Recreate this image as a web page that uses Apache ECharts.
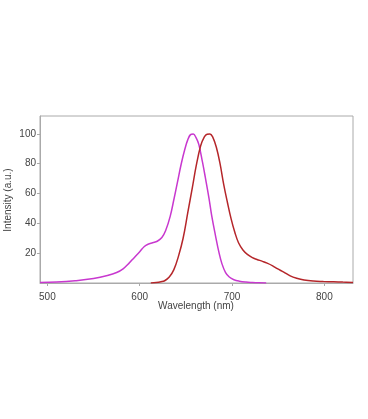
<!DOCTYPE html>
<html><head><meta charset="utf-8">
<script src="https://cdn.jsdelivr.net/npm/echarts@6/dist/echarts.min.js"></script>
<style>html,body{margin:0;padding:0;background:#fff}#c{width:368px;height:419px}</style>
</head><body><div id="c"></div>
<script>
const xTicks = [500, 600, 700, 800];
const yTicks = [20, 40, 60, 80, 100];
const xTitle = 'Wavelength (nm)';
const yTitle = 'Intensity (a.u.)';
const exWavelength = [492, 510, 530, 550, 565, 575, 582, 588, 594, 600, 605, 609, 614, 619, 624, 628, 633, 637, 641, 645, 649, 652, 655, 658, 661, 664, 668, 671, 675, 678, 682, 686, 689, 693, 697, 702, 708, 715, 722, 729, 737];
const exIntensity = [0.3, 0.6, 1.5, 3, 5, 7, 9.5, 13, 17, 21, 24.5, 26, 27, 28, 30.5, 35, 44.7, 56, 68, 80, 90, 96, 99.5, 100, 97.5, 93, 81, 71, 57, 45, 32, 20, 13, 7, 4, 2.2, 1.2, 0.6, 0.3, 0.1, 0];
const emWavelength = [612, 618, 623, 627, 632, 637, 642, 647, 652, 657, 661, 666, 670, 673, 676, 679, 683, 687, 691, 695, 699, 703, 707, 712, 717, 722, 727, 733, 738, 744, 749, 756, 763, 770, 778, 788, 799, 810, 820, 831];
const emIntensity = [0, 0.3, 0.8, 1.5, 4, 9, 18, 30, 47, 64, 78, 92, 98, 99.8, 100, 98, 91, 80, 66, 54, 43, 34, 27, 22, 19, 17, 15.8, 14.5, 13.3, 11.5, 9.6, 7.3, 4.8, 3.2, 2, 1.3, 1, 0.8, 0.6, 0.4];

const chart = echarts.init(document.getElementById('c'), null, {renderer: 'canvas'});
const font = 'Liberation Sans, Arial, sans-serif';
const axisText = {color: '#444', fontSize: 10, fontFamily: font};
chart.setOption({
  animation: false,
  backgroundColor: '#fff',
  grid: {left: 40, right: 15, top: 116, bottom: 136, containLabel: false, outerBoundsMode: 'none', show: true, borderColor: '#aaa', borderWidth: 1},
  graphic: [
    {type: 'text', x: 196, y: 306, style: {text: xTitle, fill: '#444', font: '10px ' + font, align: 'center', verticalAlign: 'middle'}},
    {type: 'text', x: 8, y: 200, rotation: Math.PI / 2, style: {text: yTitle, fill: '#444', font: '10px ' + font, align: 'center', verticalAlign: 'middle'}}
  ],
  xAxis: {
    type: 'value', min: 492, max: 831,
    axisLine: {show: true, lineStyle: {color: '#aaa'}},
    axisTick: {show: true, length: 3, lineStyle: {color: '#aaa'}, customValues: xTicks},
    axisLabel: Object.assign({margin: 9, customValues: xTicks}, axisText),
    splitLine: {show: false}
  },
  yAxis: {
    type: 'value', min: 0, max: 112,
    axisLine: {show: true, lineStyle: {color: '#aaa'}},
    axisTick: {show: true, length: 3, lineStyle: {color: '#aaa'}, customValues: yTicks},
    axisLabel: Object.assign({margin: 4, customValues: yTicks}, axisText),
    splitLine: {show: false}
  },
  series: [
    {type: 'line', smooth: 0.4, showSymbol: false, lineStyle: {color: '#c838cf', width: 1.5},
     data: exWavelength.map((w, i) => [w, exIntensity[i]])},
    {type: 'line', smooth: 0.4, showSymbol: false, lineStyle: {color: '#b5262a', width: 1.5},
     data: emWavelength.map((w, i) => [w, emIntensity[i]])}
  ]
});
</script></body></html>
